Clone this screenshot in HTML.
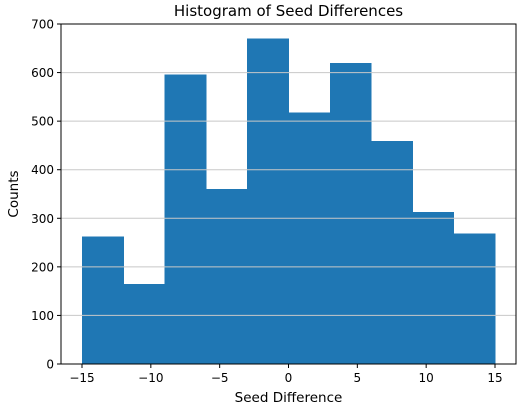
<!DOCTYPE html>
<html><head><meta charset="utf-8"><style>
html,body{margin:0;padding:0;background:#fff;}
svg{display:block;font-family:"DejaVu Sans","Liberation Sans",sans-serif;}
</style></head><body>
<svg id="chart" width="526" height="410"></svg>
<script>
const binEdges=[-15,-12,-9,-6,-3,0,3,6,9,12,15];
const counts=[263,165,596,360,670,518,620,459,313,269];
const xTicks=[-15,-10,-5,0,5,10,15];
const yTicks=[0,100,200,300,400,500,600,700];
const L=61,R=516,T=24,B=364;
const x0=82,x1=495;
const sx=v=>x0+(v+15)/30*(x1-x0);
const sy=v=>B-v/700*(B-T);
const svg=document.getElementById('chart');
const NS='http://www.w3.org/2000/svg';
function mk(tag,attrs,text){const e=document.createElementNS(NS,tag);for(const k in attrs)e.setAttribute(k,attrs[k]);if(text!==undefined)e.textContent=text;svg.appendChild(e);return e;}
const fmt=v=>(v<0?'\u2212':'')+Math.abs(v);
for(let i=0;i<counts.length;i++){
  const b=mk('rect',{x:sx(binEdges[i]),y:sy(counts[i]),width:sx(binEdges[i+1])-sx(binEdges[i])+0.5,height:B-sy(counts[i]),fill:'#1f77b4','shape-rendering':'crispEdges'});
  
  
}
yTicks.forEach(v=>{
  if(v>0&&v<700){const g=mk('line',{x1:L,x2:R,y1:sy(v),y2:sy(v),stroke:'#c8c8c8','stroke-width':1});
  
  }
  const t=mk('line',{x1:L-4,x2:L,y1:sy(v),y2:sy(v),stroke:'#000'});
  
  
  const l=mk('text',{x:L-7,y:sy(v)+4.5,'text-anchor':'end','font-size':12},fmt(v));
  
  
});
xTicks.forEach(v=>{
  const t=mk('line',{x1:sx(v),x2:sx(v),y1:B,y2:B+4,stroke:'#000'});
  
  
  const l=mk('text',{x:sx(v),y:B+18,'text-anchor':'middle','font-size':12},fmt(v));
  
  
});
const f=mk('rect',{x:L,y:T,width:R-L,height:B-T,fill:'none',stroke:'#000','stroke-width':1});


const ti=mk('text',{x:(L+R)/2,y:16,'text-anchor':'middle','font-size':15},'Histogram of Seed Differences');


const xl=mk('text',{x:(L+R)/2,y:402,'text-anchor':'middle','font-size':13.5},'Seed Difference');


const yl=mk('text',{x:18,y:(T+B)/2,'text-anchor':'middle','font-size':13.5,transform:'rotate(-90 18 '+(T+B)/2+')'},'Counts');


</script>
</body></html>
